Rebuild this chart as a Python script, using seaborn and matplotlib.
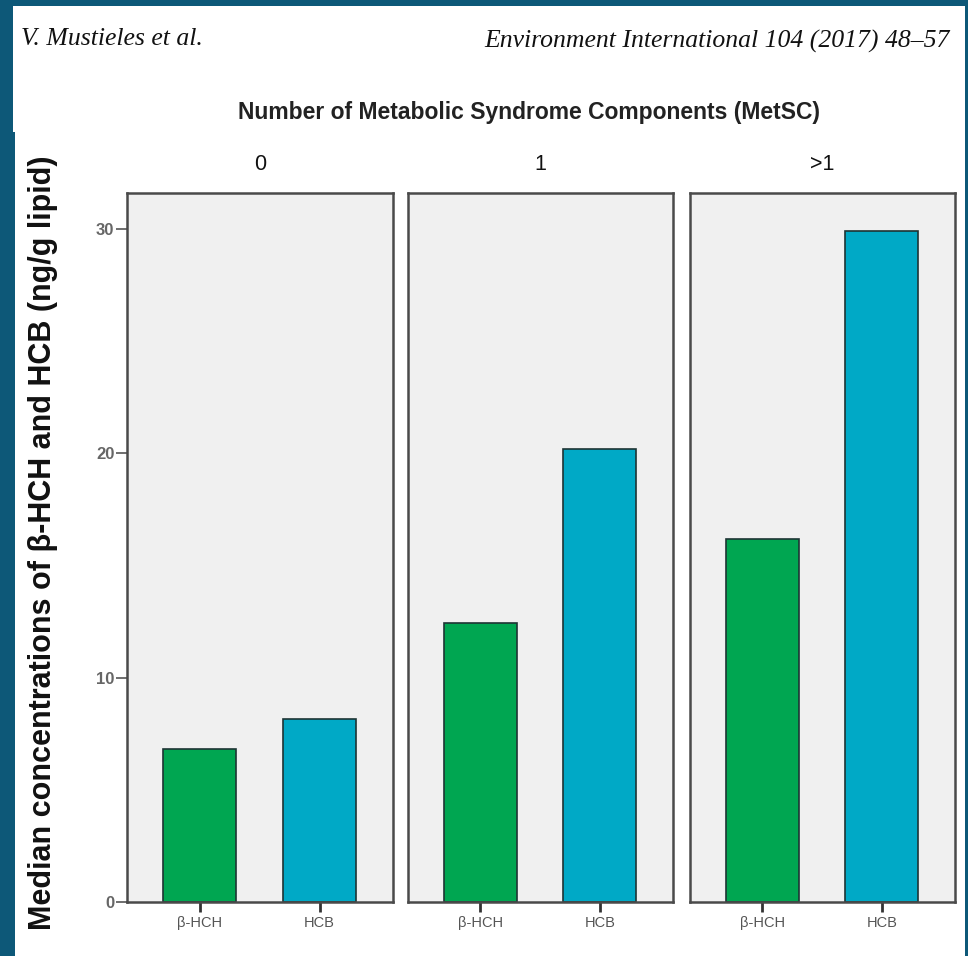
import matplotlib
matplotlib.use("Agg")
import matplotlib.pyplot as plt
import seaborn as sns
import pandas as pd
from matplotlib.patches import Rectangle

# ---- data ----
groups = ["0", "1", ">1"]
compounds = ["β-HCH", "HCB"]
beta_hch = [6.8, 12.45, 16.2]
hcb = [8.15, 20.2, 29.9]
yticks = [0, 10, 20, 30]

colors = {"β-HCH": "#00a651", "HCB": "#00a9c6"}

sns.set_theme(style="white")
plt.rcParams["font.family"] = ["Liberation Sans", "DejaVu Sans"]

W, H = 968, 956
fig = plt.figure(figsize=(W / 100, H / 100), dpi=100)
fig.patch.set_facecolor("#0d5878")

# white page areas
fig.add_artist(Rectangle((13 / W, 0), (965 - 13) / W, 1 - 6 / H,
                         transform=fig.transFigure, facecolor="white",
                         edgecolor="none", zorder=0))
fig.add_artist(Rectangle((13 / W, 0), 2 / W, (H - 132) / H,
                         transform=fig.transFigure, facecolor="#0d5878",
                         edgecolor="none", zorder=0))

# header
fig.text(21 / W, 1 - 39 / H, "V. Mustieles et al.", fontsize=18.5,
         family=["Liberation Serif", "DejaVu Serif"], style="italic",
         ha="left", va="center", color="#111")
fig.text(950 / W, 1 - 41 / H, "Environment International 104 (2017) 48–57",
         fontsize=18.5, family=["Liberation Serif", "DejaVu Serif"],
         style="italic", ha="right", va="center", color="#111")

# title
fig.text(529 / W, 1 - 113 / H, "Number of Metabolic Syndrome Components (MetSC)",
         fontsize=16.5, fontweight="bold", ha="center", va="center", color="#222")

# y label
fig.text(43 / W, 1 - 543 / H,
         "Median concentrations of β-HCH and HCB (ng/g lipid)",
         fontsize=22, fontweight="bold", rotation=90,
         ha="center", va="center", color="#111")

panel_x = [(127, 393), (408, 673), (690, 955)]
y_top, y_bot = 193, 902

for i, (g, (x0, x1)) in enumerate(zip(groups, panel_x)):
    ax = fig.add_axes([x0 / W, (H - y_bot) / H, (x1 - x0) / W, (y_bot - y_top) / H])
    df = pd.DataFrame({"compound": compounds, "value": [beta_hch[i], hcb[i]]})
    sns.barplot(data=df, x="compound", y="value", hue="compound",
                palette=colors, width=0.61, ax=ax, legend=False,
                edgecolor="#1d3434", linewidth=1.2, saturation=1)
    ax.set_facecolor("#f0f0f0")
    ax.set_xlim(-0.604, 1.612)
    ax.set_ylim(0, 31.6)
    ax.set_xlabel("")
    ax.set_ylabel("")
    for s in ax.spines.values():
        s.set_visible(True)
        s.set_color("#4a4a4a")
        s.set_linewidth(1.8)
    ax.tick_params(axis="x", bottom=True, length=7, width=2, color="#333",
                   labelsize=10.5, labelcolor="#555", pad=3)
    if i == 0:
        ax.set_yticks(yticks)
        ax.set_yticklabels([str(t) for t in yticks], fontweight="bold")
        ax.tick_params(axis="y", left=True, length=8, width=1.2, color="#555",
                       labelsize=12, labelcolor="#666", pad=1)
    else:
        ax.set_yticks([])
    fig.text((x0 + x1) / 2 / W, 1 - 165 / H, g, fontsize=15.5,
             ha="center", va="center", color="#111")

fig.savefig("out.png", dpi=100, facecolor=fig.get_facecolor())
